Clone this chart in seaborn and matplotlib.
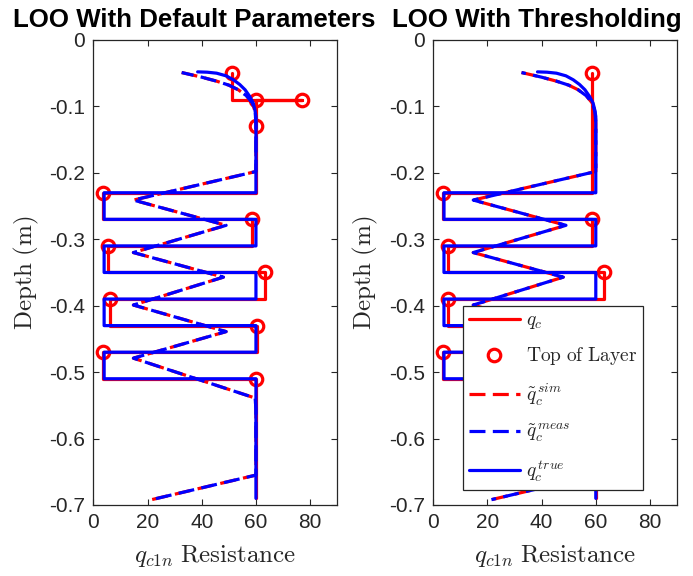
import matplotlib
matplotlib.use("Agg")
import matplotlib.pyplot as plt
import seaborn as sns
import pandas as pd
from matplotlib.lines import Line2D

# ---------------- data ----------------
# rounded top of the true profile (resistance, depth)
true_cap_resistance = [38.5, 42.0, 45.5, 49.0, 51.7, 54.0, 56.0, 57.7, 59.0, 59.6, 60.0]
true_cap_depth = [-0.048, -0.0485, -0.050, -0.054, -0.060, -0.067, -0.075,
                  -0.085, -0.095, -0.105, -0.115]
# layered part of the true profile
layer_tops = [-0.23, -0.27, -0.31, -0.35, -0.39, -0.43, -0.47, -0.51]
true_layer_resistance = [4, 60, 4, 60, 4, 60, 4, 60]
profile_bottom = -0.69

# smoothed cone profile (simulated and measured traces)
smooth_resistance = [32.6, 40.0, 45.5, 50.0, 53.5, 56.5, 58.7, 59.7, 60.0, 60.0,
                     14.8, 49.0, 14.8, 48.0, 14.8, 49.0, 14.8, 59.7, 60.0, 60.0,
                     21.5]
smooth_depth = [-0.049, -0.056, -0.062, -0.068, -0.075, -0.084, -0.095, -0.108,
                -0.125, -0.198, -0.241, -0.279, -0.320, -0.357, -0.399, -0.439,
                -0.479, -0.539, -0.555, -0.655, -0.692]

# inverted layers: default parameters
default_tops = [-0.05, -0.09, -0.09, -0.13, -0.23, -0.27, -0.31, -0.35, -0.39,
                -0.43, -0.47, -0.51]
default_qc = [51, 77, 60, 60, 3.5, 58.5, 5.5, 63.5, 6.0, 60.5, 3.5, 60]

# inverted layers: with thresholding
thresh_tops = [-0.05, -0.23, -0.27, -0.31, -0.35, -0.39, -0.43, -0.47, -0.51]
thresh_qc = [58.6, 3.5, 58.6, 5.5, 63.0, 5.6, 60.0, 3.8, 60.0]

titles = ["LOO With Default Parameters", "LOO With Thresholding"]
x_ticks = [0, 20, 40, 60, 80]
y_ticks = [0, -0.1, -0.2, -0.3, -0.4, -0.5, -0.6, -0.7]
y_tick_labels = ["0", "-0.1", "-0.2", "-0.3", "-0.4", "-0.5", "-0.6", "-0.7"]


def step_path(tops, values, bottom):
    """Turn layer tops/values into a depth-resistance staircase."""
    xs, ys = [], []
    for i, (t, v) in enumerate(zip(tops, values)):
        nxt = tops[i + 1] if i + 1 < len(tops) else bottom
        xs += [v, v]
        ys += [t, nxt]
    return pd.DataFrame({"q": xs, "depth": ys})


# true profile = rounded cap + vertical run + staircase
stairs = step_path(layer_tops, true_layer_resistance, profile_bottom)
true_df = pd.concat([
    pd.DataFrame({"q": true_cap_resistance + [true_cap_resistance[-1]],
                  "depth": true_cap_depth + [layer_tops[0]]}),
    stairs], ignore_index=True)
smooth_df = pd.DataFrame({"q": smooth_resistance, "depth": smooth_depth})

# ---------------- style ----------------
sns.set_theme(style="ticks")
plt.rcParams["font.family"] = ["Liberation Sans", "DejaVu Sans"]
plt.rcParams["mathtext.fontset"] = "cm"
plt.rcParams.update({
    "xtick.direction": "in", "ytick.direction": "in",
    "xtick.top": True, "ytick.right": True,
    "xtick.major.size": 4.5, "ytick.major.size": 4.5,
    "xtick.major.width": 0.8, "ytick.major.width": 0.8,
    "axes.edgecolor": "#262626", "axes.linewidth": 0.9,
    "xtick.color": "#262626", "ytick.color": "#262626",
    "xtick.labelcolor": "#262626", "ytick.labelcolor": "#262626",
})

RED = "#ff0000"
BLUE = "#0000ff"
LW = 2.3
DASH = (5, 2.3)

fig = plt.figure(figsize=(6.93, 5.76), dpi=100)
ax_l = fig.add_axes([0.1346, 0.1233, 0.3521, 0.8073])
ax_r = fig.add_axes([0.6250, 0.1233, 0.3521, 0.8073])

panels = [
    (ax_l, default_tops, default_qc, 1.2, 0.413),
    (ax_r, thresh_tops, thresh_qc, 3.6, 0.426),
]

for (ax, tops, qc, blue_offset, title_x), title in zip(panels, titles):
    qc_df = step_path(tops, qc, profile_bottom)
    sns.lineplot(data=qc_df, x="q", y="depth", sort=False, estimator=None,
                 color=RED, lw=LW, ax=ax)
    sns.lineplot(x=qc, y=tops, sort=False, estimator=None, ax=ax,
                 linestyle="none", marker="o", markersize=9,
                 markerfacecolor="none", markeredgecolor=RED,
                 markeredgewidth=2.3)
    sns.lineplot(data=smooth_df, x="q", y="depth", sort=False, estimator=None,
                 color=RED, lw=LW, linestyle=(0, DASH), ax=ax)
    sns.lineplot(data=smooth_df, x="q", y="depth", sort=False, estimator=None,
                 color=BLUE, lw=LW, linestyle=(blue_offset, DASH), ax=ax)
    sns.lineplot(data=true_df, x="q", y="depth", sort=False, estimator=None,
                 color=BLUE, lw=LW, ax=ax)

    ax.set_xlim(0, 90)
    ax.set_ylim(-0.7, 0)
    ax.set_xticks(x_ticks)
    ax.set_yticks(y_ticks)
    ax.set_yticklabels(y_tick_labels)
    ax.tick_params(labelsize=15, pad=6)
    for s in ax.spines.values():
        s.set_visible(True)
    ax.set_xlabel(r"$q_{c1n}$ $\mathrm{Resistance}$", fontsize=18, labelpad=8)
    ax.set_ylabel(r"$\mathrm{Depth\ (m)}$", fontsize=18, labelpad=6)
    ax.set_title(title, fontsize=18.6, fontweight="bold", x=title_x, pad=9,
                 color="black")

handles = [
    Line2D([], [], color=RED, lw=LW),
    Line2D([], [], color=RED, linestyle="none", marker="o", markersize=9,
           markerfacecolor="none", markeredgewidth=2.3),
    Line2D([], [], color=RED, lw=LW, linestyle=(0, DASH)),
    Line2D([], [], color=BLUE, lw=LW, linestyle=(0, DASH)),
    Line2D([], [], color=BLUE, lw=LW),
]
labels = [r"$q_c$", r"$\mathrm{Top\ of\ Layer}$", r"$\tilde{q}_c^{\,sim}$",
          r"$\tilde{q}_c^{\,meas}$", r"$q_c^{\,true}$"]
leg = ax_r.legend(handles, labels, loc="upper left",
                  bbox_to_anchor=(0.124, 0.428), borderaxespad=0,
                  fontsize=14, handlelength=2.6, handletextpad=0.3,
                  labelspacing=0.72, borderpad=0.3, fancybox=False,
                  framealpha=1, edgecolor="#262626")
leg.get_frame().set_linewidth(0.9)

fig.savefig("out.png", dpi=100)
